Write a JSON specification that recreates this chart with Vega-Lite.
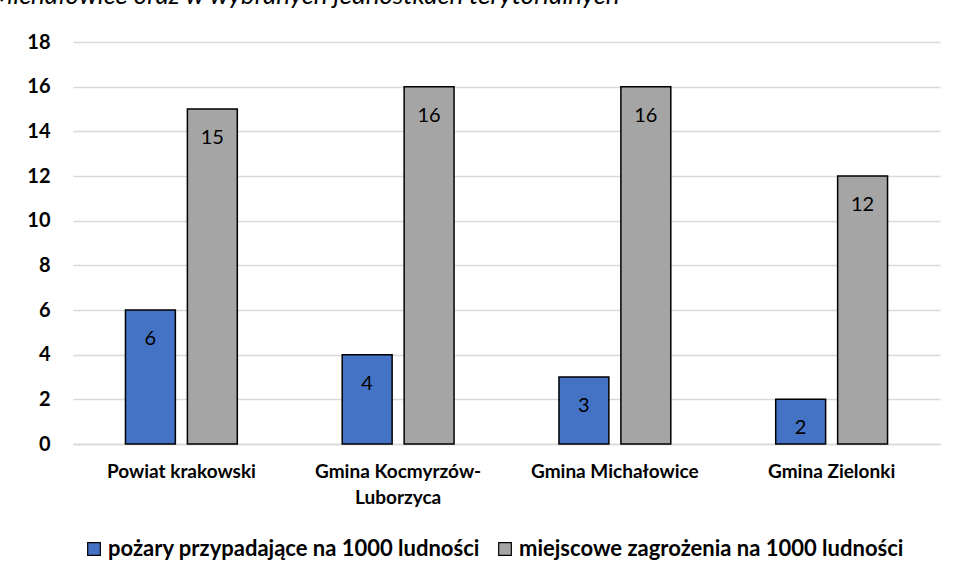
{
  "$schema": "https://vega.github.io/schema/vega-lite/v6.json",
  "autosize": "none",
  "width": 867,
  "height": 402,
  "padding": {"left": 73, "top": 42, "right": 17, "bottom": 137},
  "background": "white",
  "title": {
    "text": "Michałowice oraz w wybranych jednostkach terytorialnych",
    "anchor": "start",
    "frame": "group",
    "font": "Lato",
    "fontStyle": "italic",
    "fontWeight": "normal",
    "fontSize": 26,
    "color": "#000000",
    "dx": -82,
    "dy": 2,
    "baseline": "alphabetic"
  },
  "data": {
    "values": [
      {"kat": "Powiat krakowski", "seria": "pożary przypadające na 1000 ludności", "wartosc": 6},
      {"kat": "Powiat krakowski", "seria": "miejscowe zagrożenia na 1000 ludności", "wartosc": 15},
      {"kat": "Gmina Kocmyrzów-Luborzyca", "seria": "pożary przypadające na 1000 ludności", "wartosc": 4},
      {"kat": "Gmina Kocmyrzów-Luborzyca", "seria": "miejscowe zagrożenia na 1000 ludności", "wartosc": 16},
      {"kat": "Gmina Michałowice", "seria": "pożary przypadające na 1000 ludności", "wartosc": 3},
      {"kat": "Gmina Michałowice", "seria": "miejscowe zagrożenia na 1000 ludności", "wartosc": 16},
      {"kat": "Gmina Zielonki", "seria": "pożary przypadające na 1000 ludności", "wartosc": 2},
      {"kat": "Gmina Zielonki", "seria": "miejscowe zagrożenia na 1000 ludności", "wartosc": 12}
    ]
  },
  "encoding": {
    "x": {
      "field": "kat",
      "type": "nominal",
      "sort": null,
      "scale": {"paddingInner": 0, "paddingOuter": 0},
      "axis": {
        "title": null,
        "labelAngle": 0,
        "labelFont": "Lato",
        "labelFontWeight": "bold",
        "labelFontSize": 19,
        "labelColor": "#000000",
        "labelPadding": 18,
        "labelLineHeight": 26,
        "labelExpr": "datum.value == 'Gmina Kocmyrzów-Luborzyca' ? ['Gmina Kocmyrzów-', 'Luborzyca'] : datum.value",
        "ticks": false,
        "domain": true,
        "domainColor": "#d9d9d9",
        "domainWidth": 1.5,
        "grid": false
      }
    },
    "xOffset": {
      "field": "seria",
      "type": "nominal",
      "sort": ["pożary przypadające na 1000 ludności", "miejscowe zagrożenia na 1000 ludności"],
      "scale": {"paddingInner": 0.194, "paddingOuter": 0.847}
    },
    "y": {
      "field": "wartosc",
      "type": "quantitative",
      "scale": {"domain": [0, 18], "nice": false},
      "axis": {
        "title": null,
        "values": [0, 2, 4, 6, 8, 10, 12, 14, 16, 18],
        "labelFont": "Lato",
        "labelFontWeight": "bold",
        "labelFontSize": 20,
        "labelColor": "#000000",
        "labelPadding": 23,
        "ticks": false,
        "domain": false,
        "grid": true,
        "gridColor": "#d9d9d9",
        "gridWidth": 1.5
      }
    }
  },
  "layer": [
    {
      "mark": {"type": "bar", "stroke": "#000000", "strokeWidth": 1.5},
      "encoding": {
        "color": {
          "field": "seria",
          "type": "nominal",
          "sort": ["pożary przypadające na 1000 ludności", "miejscowe zagrożenia na 1000 ludności"],
          "scale": {
            "domain": ["pożary przypadające na 1000 ludności", "miejscowe zagrożenia na 1000 ludności"],
            "range": ["#4472C4", "#A5A5A5"]
          },
          "legend": {
            "title": null,
            "orient": "none",
            "direction": "horizontal",
            "legendX": 10,
            "legendY": 496,
            "symbolType": "square",
            "symbolSize": 160,
            "symbolStrokeColor": "#000000",
            "symbolStrokeWidth": 1.2,
            "labelFont": "Lato",
            "labelFontWeight": "bold",
            "labelFontSize": 22,
            "labelColor": "#000000",
            "labelLimit": 500,
            "columnPadding": 14,
            "labelOffset": 3
          }
        }
      }
    },
    {
      "mark": {"type": "text", "baseline": "middle", "dy": 29, "font": "Lato", "fontSize": 20, "color": "#000000"},
      "encoding": {
        "text": {"field": "wartosc", "type": "quantitative"}
      }
    }
  ],
  "config": {
    "view": {"stroke": null}
  }
}
